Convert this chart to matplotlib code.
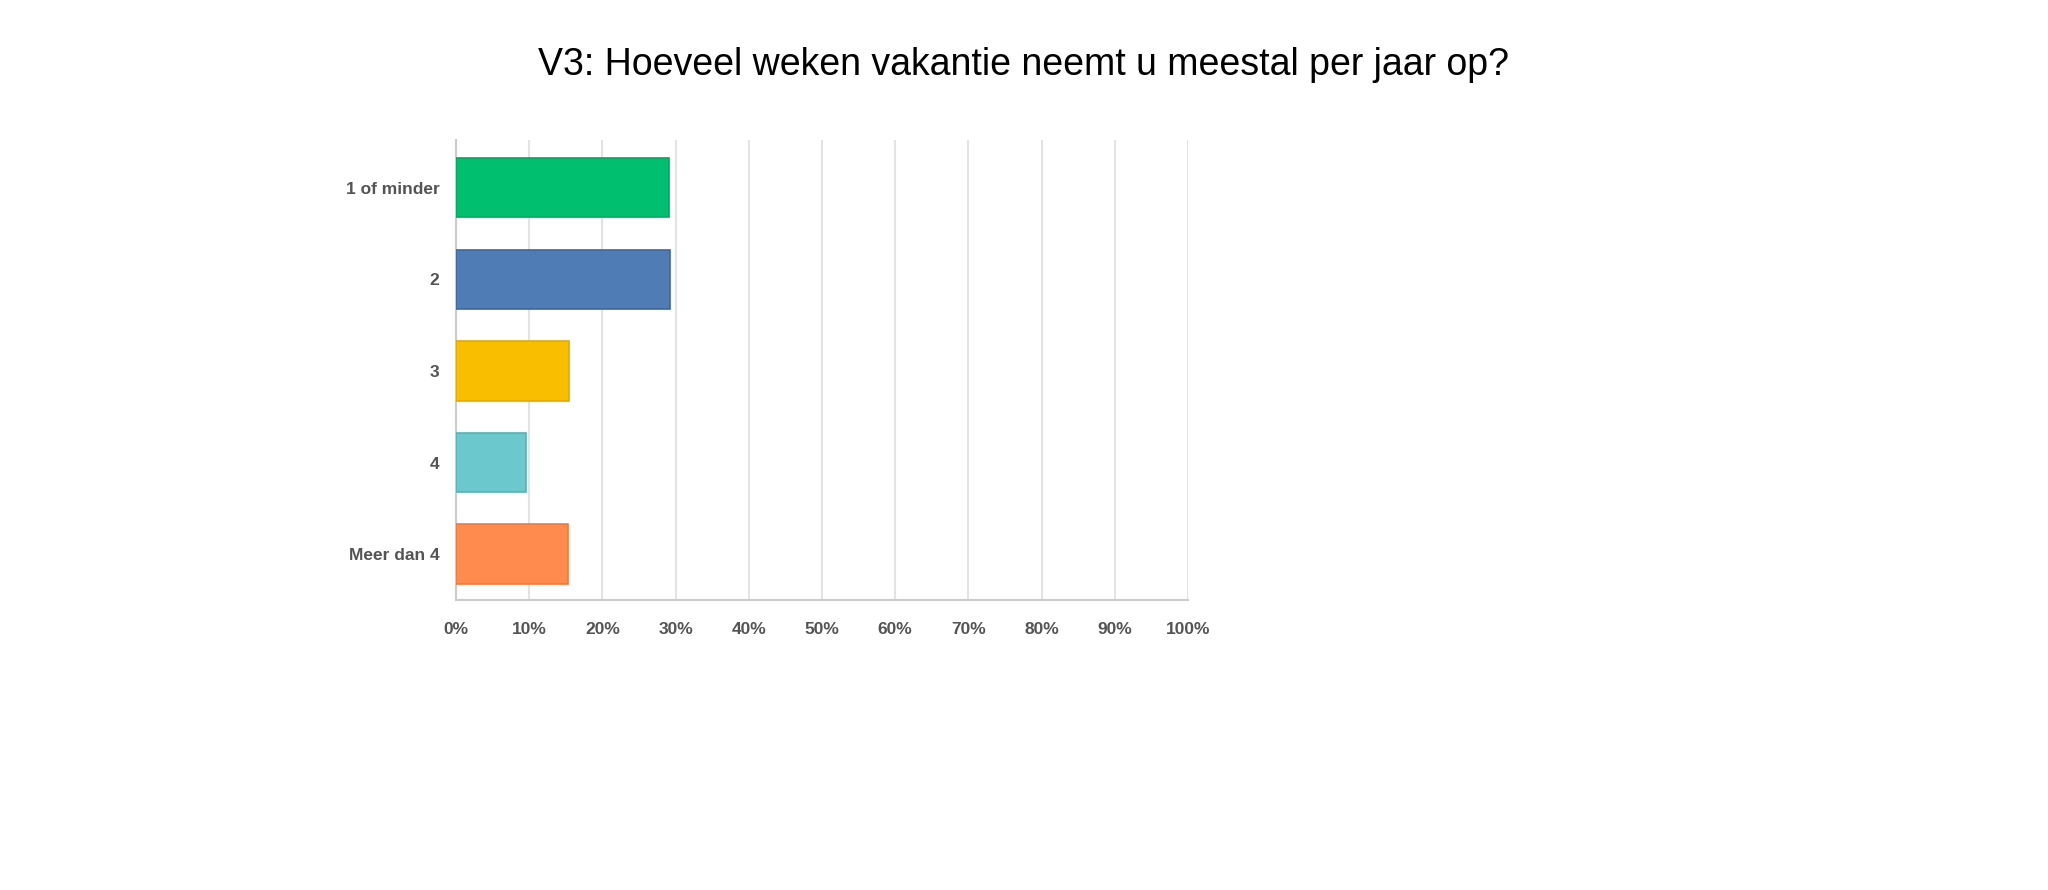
import matplotlib.pyplot as plt
import numpy as np

plt.rcParams["font.family"] = "Liberation Sans"

categories = ["1 of minder", "2", "3", "4", "Meer dan 4"]
values = [29.1, 29.2, 15.4, 9.6, 15.3]
colors = ["#00bf6f", "#507cb6", "#f9be00", "#6bc8cd", "#ff8b4f"]
edges = ["#00a862", "#3d67a0", "#e0aa00", "#55b3b8", "#f07a3e"]
xticks = np.arange(0, 101, 10)

fig = plt.figure(figsize=(20.48, 8.9), dpi=100)
ax = fig.add_axes([456 / 2048, 1 - 600 / 890, 732 / 2048, 460 / 890])

y = np.arange(len(categories))
ax.barh(y, values, height=0.65, color=colors, edgecolor=edges, linewidth=1.2, zorder=3)
ax.set_ylim(len(categories) - 0.5, -0.52)
ax.set_xlim(0, 100)

ax.set_yticks(y)
ax.set_yticklabels(categories, fontsize=12.5, fontweight="bold", color="#545454")
ax.set_xticks(xticks)
ax.set_xticklabels([f"{t}%" for t in xticks], fontsize=12.5, fontweight="bold", color="#545454")
ax.tick_params(length=0, pad=16)
ax.tick_params(axis="y", pad=12)

ax.grid(True, axis="x", color="#e3e3e3", linewidth=1.5, zorder=0)
for s in ["top", "right"]:
    ax.spines[s].set_visible(False)
ax.spines["left"].set_color("#cccccc")
ax.spines["bottom"].set_color("#cccccc")
ax.spines["left"].set_linewidth(1.5)
ax.spines["bottom"].set_linewidth(1.5)

fig.text(0.5, 1 - 65 / 890, "V3: Hoeveel weken vakantie neemt u meestal per jaar op?",
         ha="center", va="center", fontsize=27, color="#000000")

fig.savefig("out.png", dpi=100)
